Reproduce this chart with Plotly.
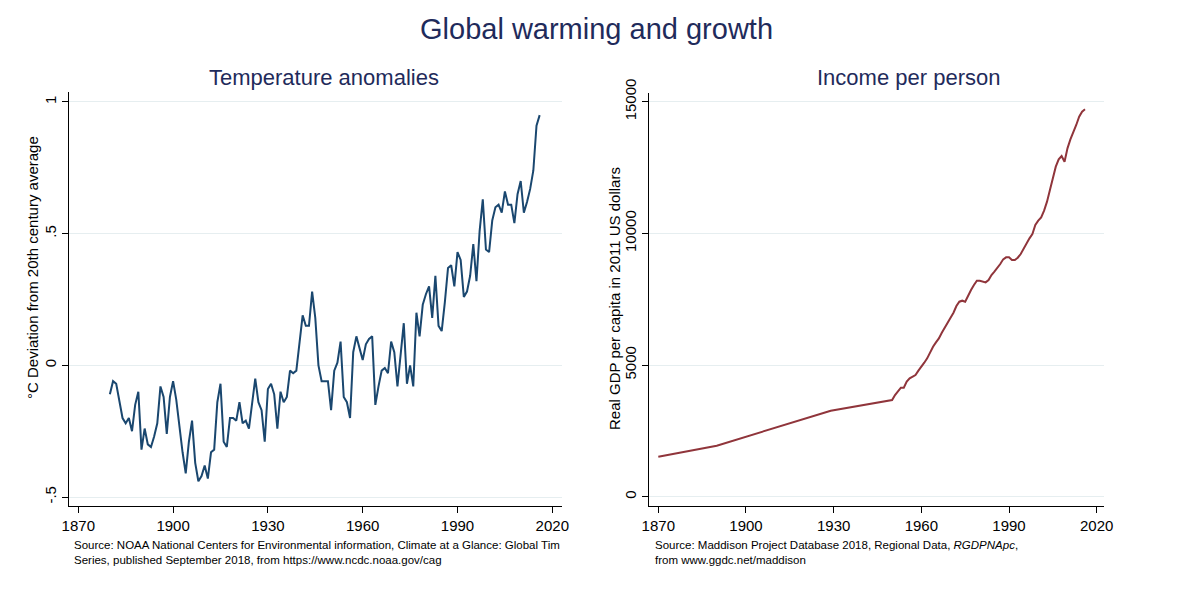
import plotly.graph_objects as go

# ---------------- data ----------------
temp_years = list(range(1880, 2017))
temp_anom = [
    -0.11, -0.06, -0.07, -0.14, -0.20, -0.22, -0.20, -0.25, -0.15, -0.10,   # 1880s
    -0.32, -0.24, -0.30, -0.31, -0.27, -0.22, -0.08, -0.12, -0.26, -0.12,   # 1890s
    -0.06, -0.13, -0.24, -0.33, -0.41, -0.29, -0.21, -0.37, -0.44, -0.42,   # 1900s
    -0.38, -0.43, -0.33, -0.32, -0.14, -0.07, -0.29, -0.31, -0.20, -0.20,   # 1910s
    -0.21, -0.14, -0.22, -0.21, -0.24, -0.14, -0.05, -0.14, -0.17, -0.29,   # 1920s
    -0.09, -0.07, -0.11, -0.24, -0.10, -0.14, -0.12, -0.02, -0.03, -0.02,   # 1930s
    0.09, 0.19, 0.15, 0.15, 0.28, 0.18, 0.00, -0.06, -0.06, -0.06,         # 1940s
    -0.17, -0.02, 0.01, 0.09, -0.12, -0.14, -0.20, 0.05, 0.11, 0.06,        # 1950s
    0.02, 0.08, 0.10, 0.11, -0.15, -0.08, -0.02, -0.01, -0.03, 0.09,        # 1960s
    0.05, -0.08, 0.03, 0.16, -0.07, 0.00, -0.08, 0.20, 0.11, 0.23,          # 1970s
    0.27, 0.30, 0.18, 0.34, 0.15, 0.13, 0.24, 0.37, 0.38, 0.30,             # 1980s
    0.43, 0.40, 0.26, 0.28, 0.34, 0.46, 0.32, 0.51, 0.63, 0.44,             # 1990s
    0.43, 0.55, 0.60, 0.61, 0.58, 0.66, 0.61, 0.61, 0.54, 0.65,             # 2000s
    0.70, 0.58, 0.62, 0.67, 0.74, 0.91, 0.95,                               # 2010s
]

gdp_years = [1870, 1890, 1929] + list(range(1950, 2017))
gdp_pc = [
    1519, 1937, 3266,
    3671, 3861, 3988, 4140, 4140, 4368, 4494, 4557, 4621, 4785,   # 1950-1959
    4963, 5089, 5254, 5507, 5697, 5862, 6013, 6229, 6431, 6646,   # 1960-1969
    6798, 6988, 7241, 7406, 7444, 7406, 7659, 7849, 8039, 8204,   # 1970-1979
    8204, 8165, 8140, 8229, 8419, 8546, 8672, 8837, 9014, 9090,   # 1980-1989
    9090, 8989, 8989, 9077, 9216, 9432, 9647, 9812, 9976, 10318,  # 1990-1999
    10482, 10609, 10862, 11204, 11647, 12052, 12533, 12812, 12938, 12723,  # 2000-2009
    13229, 13571, 13825, 14116, 14432, 14622, 14711,              # 2010-2016
]

x_ticks = [1870, 1900, 1930, 1960, 1990, 2020]
temp_ticks = [-0.5, 0, 0.5, 1]
temp_tick_labels = ["-.5", "0", ".5", "1"]
gdp_ticks = [0, 5000, 10000, 15000]
gdp_tick_labels = ["0", "5000", "10000", "15000"]

# ---------------- figure ----------------
W, H = 1189, 595
OFF = 8  # page body margin offset
FONT = "Liberation Sans, Arial, Helvetica, sans-serif"
NAVY = "#1a476f"
MAROON = "#90353b"
TITLE_COL = "#1f2b5b"
GRID = "#e6eef0"


def px(x):
    return (x - OFF) / W


def py(y):
    return 1 - (y - OFF) / H


fig = go.Figure()
fig.add_trace(go.Scatter(x=temp_years, y=temp_anom, mode="lines",
                         line=dict(color=NAVY, width=2), xaxis="x", yaxis="y",
                         showlegend=False))
fig.add_trace(go.Scatter(x=gdp_years, y=gdp_pc, mode="lines",
                         line=dict(color=MAROON, width=2), xaxis="x2", yaxis="y2",
                         showlegend=False))

axis_common = dict(showline=True, linecolor="#000000", linewidth=1, ticks="outside",
                   ticklen=6, tickcolor="#000000", tickwidth=1, zeroline=False,
                   automargin=False,
                   tickfont=dict(family=FONT, size=15, color="#000000"))

fig.update_layout(
    width=W, height=H,
    margin=dict(l=0, r=0, t=0, b=0, autoexpand=False),
    paper_bgcolor="white", plot_bgcolor="white",
    font=dict(family=FONT),
    xaxis=dict(domain=[px(69), px(562)], anchor="y", range=[1867.06, 2023.07],
               tickvals=x_ticks, showgrid=False, **axis_common),
    yaxis=dict(domain=[py(506), py(91.7)], anchor="x", range=[-0.534, 1.039],
               tickvals=temp_ticks, ticktext=temp_tick_labels, tickangle=-90,
               showgrid=True, gridcolor=GRID, gridwidth=1, **axis_common),
    xaxis2=dict(domain=[px(649.3), px(1104)], anchor="y2", range=[1866.92, 2022.5],
                tickvals=x_ticks, showgrid=False, **axis_common),
    yaxis2=dict(domain=[py(506), py(92.7)], anchor="x2", range=[-353, 15342],
                tickvals=gdp_ticks, ticktext=gdp_tick_labels, tickangle=-90,
                showgrid=True, gridcolor=GRID, gridwidth=1, **axis_common),
)

annots = [
    dict(text="Global warming and growth", x=px(596), y=py(29),
         font=dict(size=29, color=TITLE_COL)),
    dict(text="Temperature anomalies", x=px(324), y=py(77),
         font=dict(size=22, color=TITLE_COL)),
    dict(text="Income per person", x=px(908), y=py(77),
         font=dict(size=22, color=TITLE_COL)),
    dict(text="°C Deviation from 20th century average", x=px(32), y=py(268),
         textangle=-90, font=dict(size=15, color="#000000")),
    dict(text="Real GDP per capita in 2011 US dollars", x=px(614), y=py(299),
         textangle=-90, font=dict(size=15, color="#000000")),
]
for a in annots:
    fig.add_annotation(xref="paper", yref="paper", showarrow=False,
                       xanchor="center", yanchor="middle", **a)

notes = [
    dict(text="Source: NOAA National Centers for Environmental information, Climate at a Glance: Global Tim"
              "<br>Series, published September 2018, from https://www.ncdc.noaa.gov/cag",
         x=px(72), y=py(537)),
    dict(text="Source: Maddison Project Database 2018, Regional Data, <i>RGDPNApc</i>,"
              "<br>from www.ggdc.net/maddison",
         x=px(653), y=py(537)),
]
for n in notes:
    fig.add_annotation(xref="paper", yref="paper", showarrow=False,
                       xanchor="left", yanchor="top", align="left",
                       font=dict(size=11.5, color="#000000", family=FONT), **n)

fig.write_html("out.html")
